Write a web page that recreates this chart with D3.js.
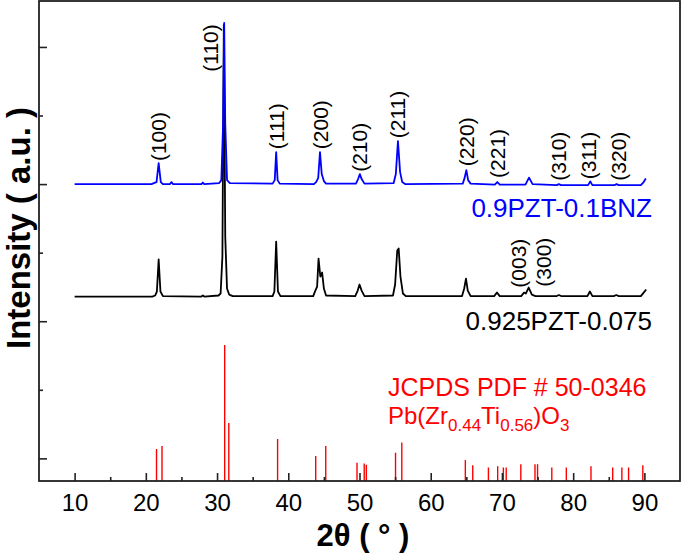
<!DOCTYPE html>
<html>
<head>
<meta charset="utf-8">
<script src="https://cdn.jsdelivr.net/npm/d3@7"></script>
<style>
  html, body { margin: 0; padding: 0; background: #fff; }
  svg { display: block; font-family: "Liberation Sans", Arial, sans-serif; }
</style>
</head>
<body>
<svg id="chart" width="685" height="553"></svg>
<script>
// ---------------- data ----------------
const xTicks = [10, 20, 30, 40, 50, 60, 70, 80, 90];
const xMinorTicks = [15, 25, 35, 45, 55, 65, 75, 85];
const yTicks = [0, 2000, 4000, 6000];
const yMinorTicks = [1000, 3000, 5000];

// 0.9PZT-0.1BNZ (blue) : [2theta, intensity above own baseline]
const blueSeries = [
  [10,0],[20.8,0],[21.3,22],[21.5,29],[21.8,306],[22.1,29],[22.4,0],
  [23.4,0],[23.6,29],[23.8,0],[27.8,0],[28.0,22],[28.2,0],
  [30.3,15],[30.6,58],[30.85,875],[31.0,2350],[31.15,875],[31.4,58],[31.8,15],
  [37.8,7],[38.1,58],[38.3,467],[38.5,58],[38.8,7],
  [43.6,0],[43.9,29],[44.2,87],[44.45,467],[44.7,146],[45.0,44],[45.3,7],
  [49.5,7],[49.8,73],[50.05,146],[50.3,73],[50.7,7],
  [54.8,15],[55.1,146],[55.4,627],[55.7,175],[56.0,29],[56.4,0],
  [64.5,7],[64.75,87],[65.0,204],[65.25,58],[65.6,7],
  [69.0,-7],[69.35,30],[69.7,-7],
  [73.3,-7],[73.8,95],[74.3,0],
  [77.7,-15],[78.0,0],[78.3,-15],
  [82.1,-15],[82.4,40],[82.7,-15],
  [85.8,-15],[86.1,0],[86.4,-15],
  [89.5,-15],[89.9,30],[90.2,80]
];
const blueOffset = 4000;

// 0.925PZT-0.075 (black)
const blackSeries = [
  [10,0],[20.9,0],[21.3,15],[21.55,73],[21.8,540],[22.05,73],[22.4,7],
  [27.8,0],[28.0,15],[28.2,0],
  [30.2,15],[30.5,44],[30.75,583],[30.95,3960],[31.15,875],[31.4,117],[31.7,29],[32.2,7],
  [37.8,7],[38.05,73],[38.3,802],[38.55,73],[38.9,7],
  [43.5,7],[43.8,87],[44.05,146],[44.25,554],[44.5,292],[44.75,350],[45.0,117],[45.3,15],
  [49.4,7],[49.75,87],[50.0,175],[50.3,87],[50.7,7],
  [54.7,15],[55.0,175],[55.3,671],[55.5,700],[55.75,292],[56.1,44],[56.5,7],
  [64.4,7],[64.7,117],[64.95,262],[65.2,87],[65.6,7],
  [68.9,7],[69.3,58],[69.7,7],
  [72.7,7],[73.1,58],[73.35,44],[73.75,131],[74.2,29],[74.7,7],
  [77.7,7],[78.0,22],[78.3,7],
  [82.0,7],[82.35,73],[82.7,7],
  [85.7,7],[86.05,22],[86.4,7],
  [89.5,7],[89.9,58],[90.25,102]
];
const blackOffset = 2360;

// JCPDS 50-0346 reference sticks: positions and intensities
const stickPos = [21.5,22.27,31.07,31.65,38.5,43.85,45.26,49.65,50.66,50.96,55.06,55.94,
  64.86,65.9,68.1,69.4,70.2,70.6,72.65,74.64,75.0,77.0,79.04,82.5,85.55,86.84,87.78,89.78];
const stickInt = [467,510,1983,846,612,365,510,265,255,236,413,560,
  305,230,197,216,197,197,245,245,245,197,197,216,197,197,197,230];
const stickBase = -330;

// hkl labels
const blueLabels = [
  {t:"(100)", x:21.8, y:306},{t:"(110)", x:29.15, y:1610},{t:"(111)", x:38.3, y:480},
  {t:"(200)", x:44.5, y:480},{t:"(210)", x:50.0, y:150},{t:"(211)", x:55.4, y:640},
  {t:"(220)", x:65.0, y:230},{t:"(221)", x:69.35, y:60},{t:"(310)", x:78.0, y:20},
  {t:"(311)", x:82.2, y:40},{t:"(320)", x:86.4, y:20}
];
const blackLabels = [
  {t:"(003)", x:72.3, y:100},{t:"(300)", x:75.8, y:115}
];

// ---------------- chart ----------------
const svg = d3.select("#chart");
const L = 39, R = 680, T = 1, B = 481;
const x = d3.scaleLinear().domain([5, 95]).range([L, R]);
const y = d3.scaleLinear().domain([-330, 6670]).range([B, T]);

// red sticks
svg.append("g").selectAll("line").data(stickPos).join("line")
  .attr("x1", d => x(d)).attr("x2", d => x(d))
  .attr("y1", y(stickBase))
  .attr("y2", (d, i) => y(stickBase + stickInt[i]))
  .attr("stroke", "#ff0000").attr("stroke-width", 1.4);

const line = d3.line().x(d => x(d[0])).y(d => y(d[1]));

svg.append("path").datum(blackSeries.map(d => [d[0], d[1] + blackOffset]))
  .attr("d", line).attr("fill", "none").attr("stroke", "#000").attr("stroke-width", 1.8)
  .attr("stroke-linejoin", "round");
svg.append("path").datum(blueSeries.map(d => [d[0], d[1] + blueOffset]))
  .attr("d", line).attr("fill", "none").attr("stroke", "#0000ff").attr("stroke-width", 1.8)
  .attr("stroke-linejoin", "round");

// hkl labels (rotated)
function hkl(list, offset, color) {
  svg.append("g").selectAll("text").data(list).join("text")
    .attr("transform", d => `translate(${x(d.x)},${y(d.y + offset) - 2}) rotate(-90)`)
    .attr("dy", "0.35em")
    .attr("text-anchor", "start")
    .attr("font-size", 21)
    .attr("fill", color)
    .text(d => d.t);
}
hkl(blueLabels, blueOffset, "#000");
hkl(blackLabels, blackOffset, "#000");

// frame
svg.append("rect").attr("x", L).attr("y", T).attr("width", R - L).attr("height", B - T)
  .attr("fill", "none").attr("stroke", "#222").attr("stroke-width", 1.8);

// x axis
const xAxis = d3.axisBottom(x).tickValues(xTicks).tickSizeInner(-8).tickSizeOuter(0).tickPadding(13);
const gx = svg.append("g").attr("transform", `translate(0,${B})`).call(xAxis);
gx.select(".domain").remove();
gx.selectAll("line").attr("stroke", "#222").attr("stroke-width", 1.6);
gx.selectAll("text").attr("font-size", 24).attr("fill", "#000")
  .attr("font-family", "Liberation Sans, Arial, sans-serif");
const gxm = svg.append("g").attr("transform", `translate(0,${B})`)
  .call(d3.axisBottom(x).tickValues(xMinorTicks).tickSizeInner(-4).tickSizeOuter(0).tickFormat(""));
gxm.select(".domain").remove();
gxm.selectAll("line").attr("stroke", "#222").attr("stroke-width", 1.6);

// y axis
const gy = svg.append("g").attr("transform", `translate(${L},0)`)
  .call(d3.axisLeft(y).tickValues(yTicks).tickSizeInner(-8).tickSizeOuter(0).tickFormat(""));
gy.select(".domain").remove();
gy.selectAll("line").attr("stroke", "#222").attr("stroke-width", 1.6);
const gym = svg.append("g").attr("transform", `translate(${L},0)`)
  .call(d3.axisLeft(y).tickValues(yMinorTicks).tickSizeInner(-4).tickSizeOuter(0).tickFormat(""));
gym.select(".domain").remove();
gym.selectAll("line").attr("stroke", "#222").attr("stroke-width", 1.6);

// axis titles
svg.append("text").attr("x", 363).attr("y", 546).attr("text-anchor", "middle")
  .attr("font-size", 31).attr("font-weight", "bold").text("2θ ( ° )");
svg.append("text").attr("transform", "translate(30,228) rotate(-90)").attr("text-anchor", "middle")
  .attr("font-size", 33).attr("font-weight", "bold").text("Intensity ( a.u. )");

// series labels
svg.append("text").attr("x", 652).attr("y", 217).attr("text-anchor", "end")
  .attr("font-size", 26).attr("fill", "#0000ff").text("0.9PZT-0.1BNZ");
svg.append("text").attr("x", 652).attr("y", 330).attr("text-anchor", "end")
  .attr("font-size", 26).attr("fill", "#000").text("0.925PZT-0.075");

// JCPDS labels
svg.append("text").attr("x", 388).attr("y", 396).attr("font-size", 25).attr("fill", "#ff0000")
  .text("JCPDS PDF # 50-0346");
const f = svg.append("text").attr("x", 388).attr("y", 424).attr("font-size", 24).attr("fill", "#ff0000");
f.append("tspan").text("Pb(Zr");
f.append("tspan").attr("font-size", 17).attr("dy", 7).text("0.44");
f.append("tspan").attr("dy", -7).text("Ti");
f.append("tspan").attr("font-size", 17).attr("dy", 7).text("0.56");
f.append("tspan").attr("dy", -7).text(")O");
f.append("tspan").attr("font-size", 17).attr("dy", 7).text("3");
</script>
</body>
</html>
